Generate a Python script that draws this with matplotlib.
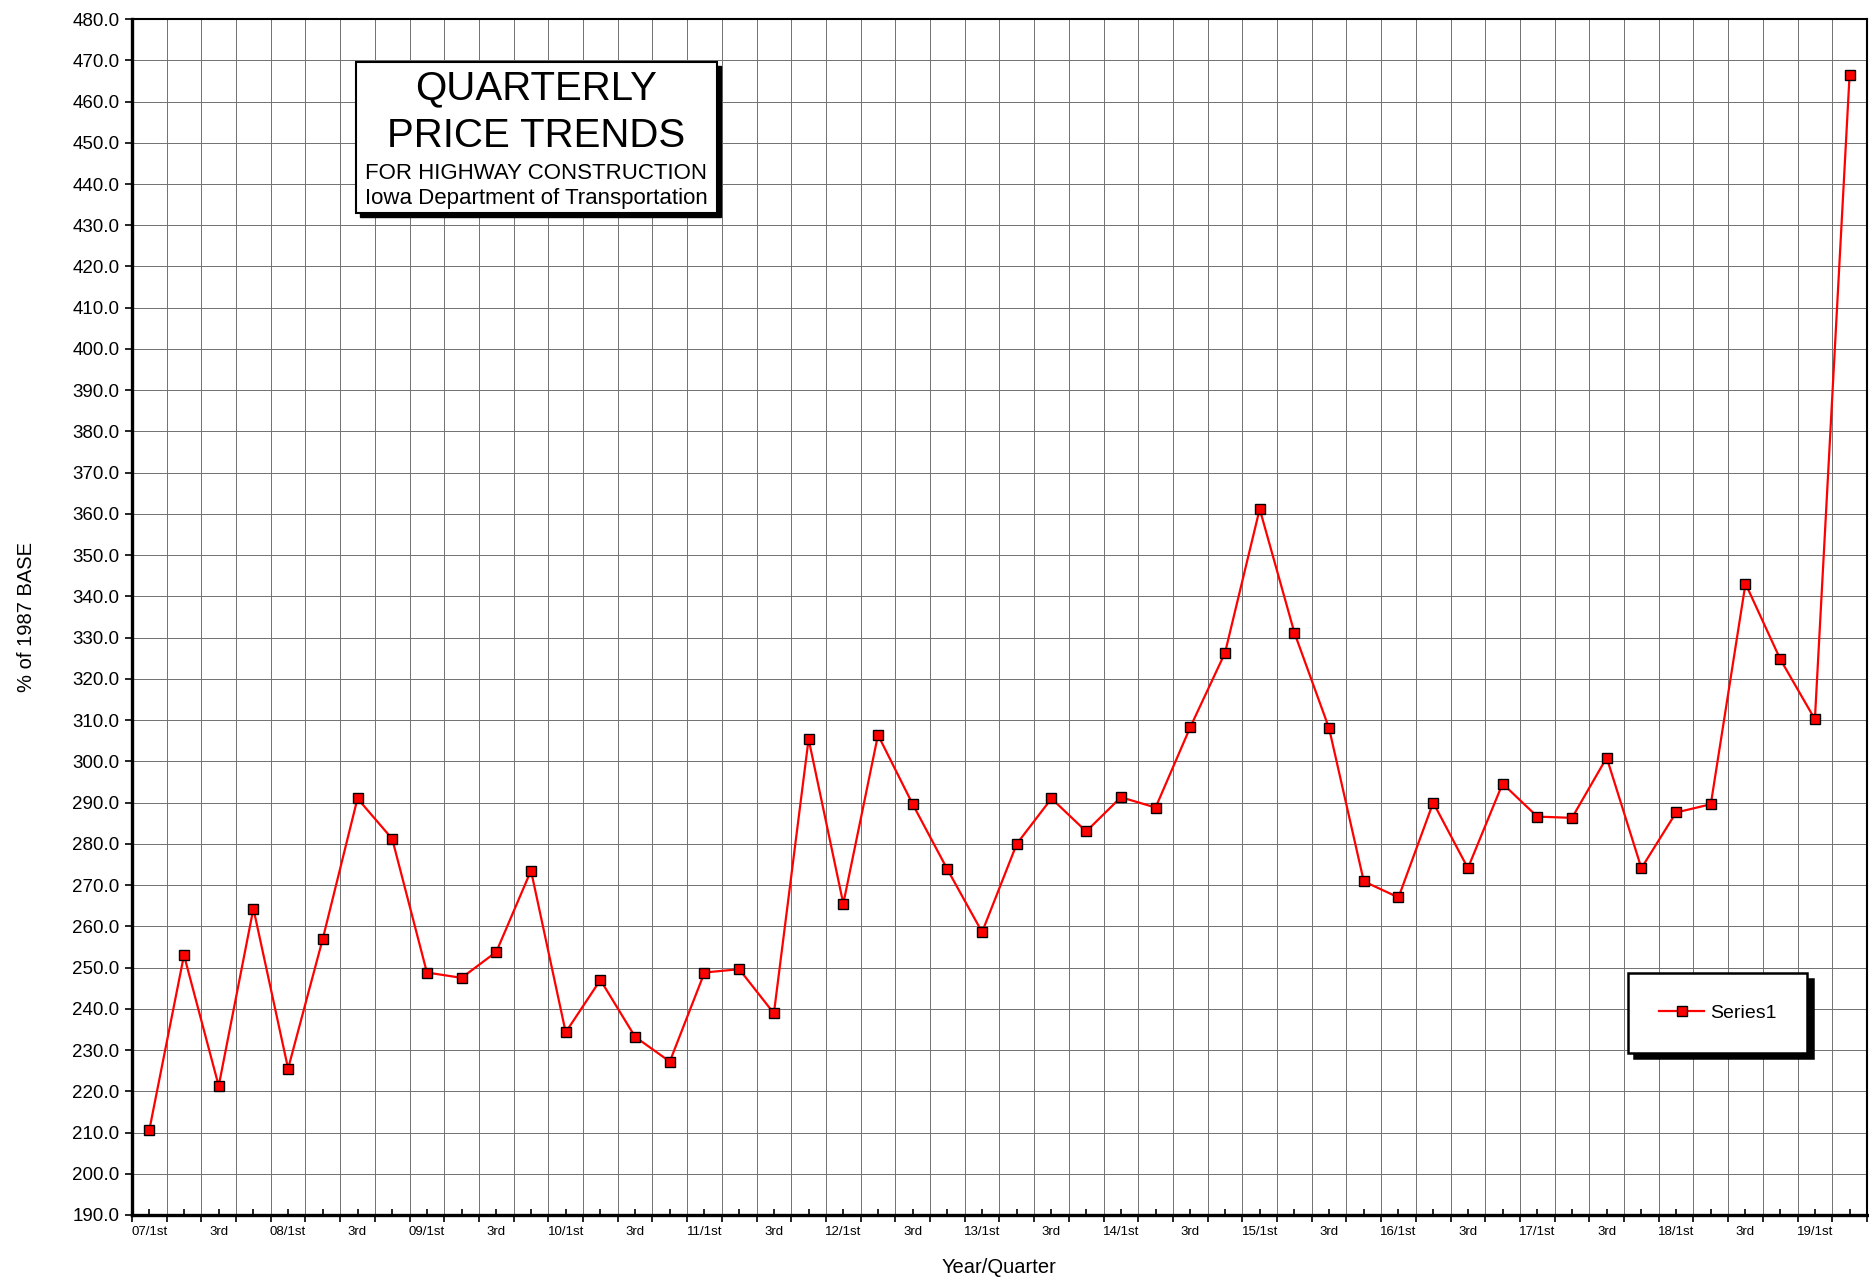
import matplotlib
matplotlib.use("Agg")
import matplotlib.pyplot as plt
from matplotlib.patches import Rectangle
import numpy as np

plt.rcParams['font.family'] = ['Liberation Sans', 'DejaVu Sans']

### DATA
years = ['07', '08', '09', '10', '11', '12', '13', '14', '15', '16', '17', '18', '19']
quarters = ['1st', '2nd', '3rd', '4th']
# quarter categories 07/1st .. 19/2nd
categories = [f'{y}/{q}' for y in years for q in quarters][:50]
tick_labels = [f'{c.split("/")[0]}/1st' if c.endswith('1st') else ('3rd' if c.endswith('3rd') else '')
               for c in categories]
index_values = [
    210.6, 253.0, 221.3, 264.3, 225.5, 257.0, 291.0, 281.2, 248.8, 247.5,
    253.8, 273.5, 234.3, 247.0, 233.2, 227.2, 248.8, 249.6, 238.9, 305.4,
    265.5, 306.4, 289.6, 273.8, 258.6, 280.0, 291.0, 283.0, 291.3, 288.8,
    308.3, 326.3, 361.2, 331.2, 308.0, 270.9, 267.0, 290.0, 274.1, 294.6,
    286.6, 286.3, 300.9, 274.1, 287.6, 289.6, 343.1, 324.8, 310.2, 466.5,
]
title_lines = ['QUARTERLY', 'PRICE TRENDS', 'FOR HIGHWAY CONSTRUCTION', 'Iowa Department of Transportation']

### PLOT
fig = plt.figure(figsize=(18.69, 12.78), dpi=100)
ax = fig.add_axes([0.0706, 0.0493, 0.9283, 0.9358])

x = np.arange(len(categories))
ax.plot(x, index_values, color='#ff0000', lw=1.6, marker='s', ms=7,
        mfc='#ff0000', mec='black', mew=1.0, label='Series1', zorder=5)

ax.set_xlim(-0.5, len(categories) - 0.5)
ax.set_ylim(190, 480)
ax.set_yticks(np.arange(190, 481, 10))
ax.set_yticklabels([f'{v:.1f}' for v in np.arange(190, 481, 10)], fontsize=13.5)

# category boundaries carry the grid, centres carry the labels
ax.set_xticks(np.arange(-0.5, len(categories), 1.0))
ax.set_xticklabels([])
ax.set_xticks(x, minor=True)
ax.set_xticklabels(tick_labels, minor=True, fontsize=9.5)
ax.tick_params(axis='x', which='major', direction='out', length=5, width=1.2)
ax.tick_params(axis='x', which='minor', direction='in', length=4, width=1.2, pad=8)
ax.tick_params(axis='y', which='major', direction='out', length=5, width=1.2, pad=4)

ax.grid(True, which='major', color='#707070', lw=0.7)
ax.set_axisbelow(True)

for side in ['left', 'bottom']:
    ax.spines[side].set_linewidth(2.4)
for side in ['top', 'right']:
    ax.spines[side].set_linewidth(1.5)

ax.set_xlabel('Year/Quarter', fontsize=14.5, labelpad=14)
ax.set_ylabel('% of 1987 BASE', fontsize=14.5, labelpad=26)

# title box with drop shadow
bx0, by0, bw, bh = 0.129, 0.838, 0.208, 0.126
ax.add_patch(Rectangle((bx0 + 0.0025, by0 - 0.0035), bw, bh, transform=ax.transAxes,
                       facecolor='black', edgecolor='black', zorder=6))
ax.add_patch(Rectangle((bx0, by0), bw, bh, transform=ax.transAxes,
                       facecolor='white', edgecolor='black', lw=1.5, zorder=7))
cx = bx0 + bw / 2
for txt, yy, fs in zip(title_lines, [0.942, 0.902, 0.871, 0.850], [29, 29, 16, 16]):
    ax.text(cx, yy, txt, transform=ax.transAxes, ha='center', va='center',
            fontsize=fs, zorder=8)

leg = ax.legend(loc='center', bbox_to_anchor=(0.914, 0.169), fontsize=14,
                frameon=True, fancybox=False, borderpad=1.6, handlelength=2.3,
                handletextpad=0.3, edgecolor='black',
                shadow={'ox': 4, 'oy': -4, 'color': 'black', 'alpha': 1})
leg.get_frame().set_linewidth(1.8)
leg.get_frame().set_alpha(1)
leg.set_zorder(9)

fig.savefig('out.png', dpi=100)
